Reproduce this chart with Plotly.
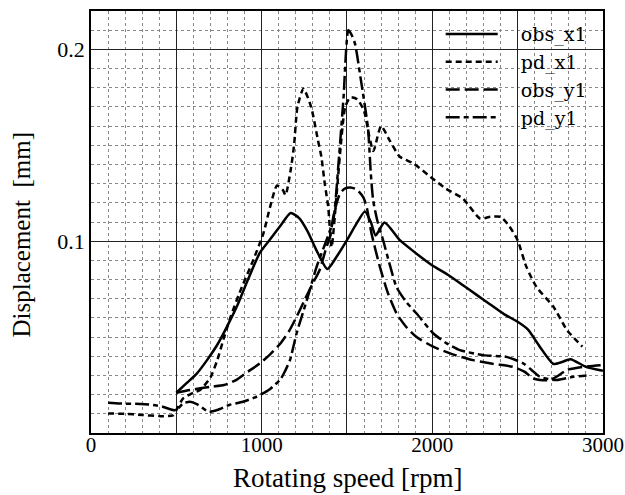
import plotly.graph_objects as go

# ---------------- data ----------------
rpm_obs_x1 = [500, 560, 620, 680, 740, 800, 860, 920, 990, 1050, 1110, 1170, 1220, 1270, 1320, 1385,
              1440, 1500, 1555, 1605, 1640, 1668, 1720, 1810, 1900, 1990, 2100, 2180, 2260, 2340,
              2420, 2500, 2560, 2630, 2710, 2760, 2810, 2900, 3000]
disp_obs_x1 = [0.021, 0.026, 0.031, 0.038, 0.046, 0.056, 0.067, 0.080, 0.094, 0.101, 0.108, 0.1147,
               0.112, 0.105, 0.0955, 0.0855, 0.092, 0.1005, 0.109, 0.1155, 0.110, 0.103, 0.1097,
               0.1005, 0.094, 0.088, 0.082, 0.077, 0.072, 0.067, 0.062, 0.058, 0.054, 0.045, 0.036,
               0.037, 0.0385, 0.0345, 0.0325]

rpm_pd_x1 = [100, 200, 300, 400, 480, 500, 540, 600, 640, 700, 740, 780, 820, 870, 950, 1010, 1050,
             1090, 1125, 1140, 1170, 1190, 1210, 1245, 1290, 1330, 1350, 1370, 1390, 1410, 1440,
             1460, 1490, 1520, 1560, 1600, 1630, 1655, 1700, 1750, 1810, 1890, 1990, 2080, 2180,
             2280, 2340, 2400, 2450, 2500, 2550, 2610, 2710, 2790, 2880]
disp_pd_x1 = [0.0102, 0.0100, 0.0094, 0.0088, 0.0092, 0.012, 0.018, 0.021, 0.0224, 0.029, 0.038,
              0.050, 0.061, 0.073, 0.090, 0.104, 0.118, 0.129, 0.1266, 0.124, 0.137, 0.150, 0.170,
              0.1795, 0.170, 0.1526, 0.144, 0.130, 0.118, 0.097, 0.125, 0.146, 0.170, 0.175, 0.174,
              0.168, 0.155, 0.147, 0.160, 0.1526, 0.144, 0.1405, 0.1335, 0.1274, 0.1222, 0.1118,
              0.1127, 0.1127, 0.108, 0.1005, 0.087, 0.0762, 0.0658, 0.0536, 0.045]

rpm_obs_y1 = [500, 580, 700, 780, 850, 920, 990, 1050, 1110, 1160, 1205, 1250, 1300, 1340, 1380,
              1400, 1420, 1440, 1460, 1490, 1520, 1556, 1595, 1615, 1644, 1693, 1740, 1791, 1850,
              1908, 2005, 2120, 2240, 2360, 2474, 2540, 2591, 2650, 2689, 2740, 2787, 2884, 3000]
disp_obs_y1 = [0.021, 0.0224, 0.0241, 0.025, 0.0276, 0.032, 0.0363, 0.041, 0.0467, 0.053, 0.0606,
               0.069, 0.078, 0.085, 0.097, 0.102, 0.1127, 0.12, 0.125, 0.1275, 0.128, 0.127, 0.123,
               0.118, 0.104, 0.0866, 0.073, 0.0623, 0.055, 0.050, 0.045, 0.041, 0.038, 0.036,
               0.0345, 0.032, 0.0285, 0.0275, 0.0276, 0.030, 0.0328, 0.0345, 0.0354]

rpm_pd_y1 = [100, 170, 290, 365, 420, 480, 500, 540, 580, 620, 690, 740, 810, 890, 970, 1050, 1110,
             1130, 1166, 1205, 1264, 1322, 1380, 1420, 1450, 1480, 1508, 1525, 1547, 1580, 1623,
             1640, 1654, 1680, 1712, 1750, 1791, 1850, 1908, 2005, 2080, 2162, 2298, 2435, 2533,
             2580, 2630, 2728, 2826, 2904]
disp_pd_y1 = [0.0158, 0.0154, 0.0151, 0.0146, 0.0137, 0.012, 0.012, 0.0154, 0.0163, 0.0151, 0.0111,
              0.012, 0.0146, 0.0163, 0.0189, 0.023, 0.028, 0.031, 0.038, 0.052, 0.069, 0.0866,
              0.1005, 0.111, 0.140, 0.175, 0.210, 0.208, 0.203, 0.185, 0.159, 0.135, 0.121, 0.110,
              0.1005, 0.088, 0.076, 0.068, 0.0623, 0.052, 0.047, 0.0432, 0.0406, 0.0397, 0.0363,
              0.033, 0.0293, 0.0276, 0.0293, 0.030]

x_tickvals = [0, 500, 1000, 1500, 2000, 2500, 3000]
x_ticktext = ["0", "", "1000", "", "2000", "", "3000"]
y_tickvals = [0.0, 0.1, 0.2]
y_ticktext = ["", "0.1", "0.2"]
x_title = "Rotating speed [rpm]"
y_title = "Displacement  [mm]"

series = [
    ("obs_x1", rpm_obs_x1, disp_obs_x1, "solid"),
    ("pd_x1", rpm_pd_x1, disp_pd_x1, "6px,4px"),
    ("obs_y1", rpm_obs_y1, disp_obs_y1, "14px,5px"),
    ("pd_y1", rpm_pd_y1, disp_pd_y1, "14px,4px,5px,4px"),
]

FONT = "Liberation Serif"
LEGEND_FONT = "DejaVu Serif"
GAP = "\u00a0\u00a0\u00a0"

fig = go.Figure()
for name, xs, ys, dash in series:
    fig.add_trace(go.Scatter(x=xs, y=ys, name=GAP + name, mode="lines",
                             line=dict(color="black", width=2.5, dash=dash,
                                       shape="spline", smoothing=0.6)))

fig.update_layout(
    width=625, height=495,
    margin=dict(l=91, r=22, t=11, b=62, autoexpand=False),
    paper_bgcolor="white", plot_bgcolor="white",
    font=dict(family=FONT, color="black", size=21),
    showlegend=True,
    legend=dict(x=0.683, y=0.99, xanchor="left", yanchor="top",
                bgcolor="rgba(0,0,0,0)", borderwidth=0,
                font=dict(family=LEGEND_FONT, size=19), itemwidth=52, tracegroupgap=0),
    xaxis=dict(range=[0, 3000.5], tickvals=x_tickvals, ticktext=x_ticktext,
               showgrid=True, gridcolor="#222", gridwidth=1,
               minor=dict(dtick=100, showgrid=True, gridcolor="#888", griddash="dot", gridwidth=1),
               showline=True, linecolor="black", linewidth=1.5, mirror=True,
               ticks="", zeroline=False, ticklabelstandoff=-8,
               tickfont=dict(family=FONT, size=21)),
    yaxis=dict(range=[0, 0.22], tickvals=y_tickvals, ticktext=y_ticktext,
               showgrid=True, gridcolor="#222", gridwidth=1,
               minor=dict(dtick=0.01, showgrid=True, gridcolor="#888", griddash="dot", gridwidth=1),
               showline=True, linecolor="black", linewidth=1.5, mirror=True,
               ticks="", zeroline=False,
               tickfont=dict(family=FONT, size=22)),
    annotations=[
        dict(text=x_title, xref="paper", yref="paper", x=0.5, y=-0.106,
             xanchor="center", yanchor="middle", showarrow=False,
             font=dict(family=FONT, size=27)),
        dict(text=y_title, xref="paper", yref="paper", x=-0.135, y=0.47,
             xanchor="center", yanchor="middle", showarrow=False, textangle=-90,
             font=dict(family=FONT, size=25)),
    ],
)

fig.write_html("out.html", config={"displayModeBar": False},
               post_script="document.body.style.margin='0px';document.body.style.overflow='hidden';")
